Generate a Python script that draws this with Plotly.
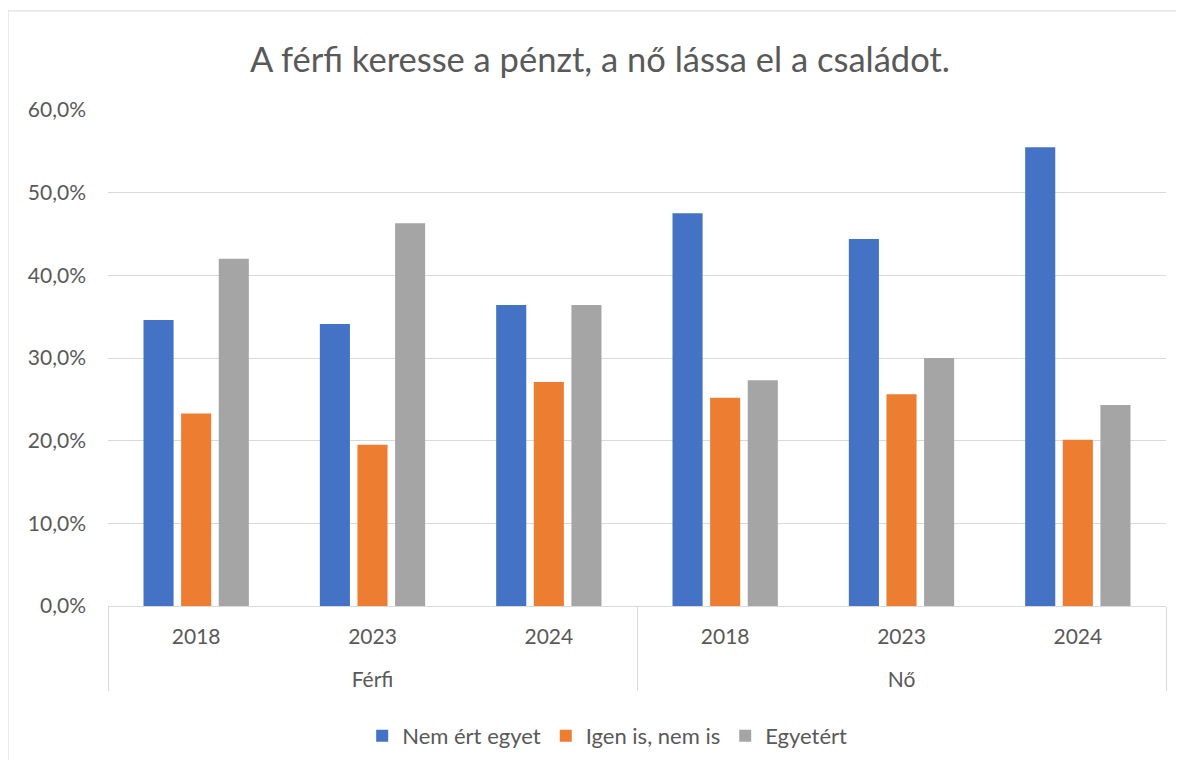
import plotly.graph_objects as go

groups = ["Férfi", "Férfi", "Férfi", "Nő", "Nő", "Nő"]
years = ["2018", "2023", "2024", "2018", "2023", "2024"]

nem_ert_egyet = [34.6, 34.1, 36.4, 47.5, 44.4, 55.5]
igen_is_nem_is = [23.3, 19.5, 27.1, 25.2, 25.6, 20.1]
egyetert = [42.0, 46.3, 36.4, 27.3, 30.0, 24.3]

series = [
    ("Nem ért egyet", nem_ert_egyet, "#4472C4"),
    ("Igen is, nem is", igen_is_nem_is, "#ED7D31"),
    ("Egyetért", egyetert, "#A5A5A5"),
]

font = "Lato"
text_color = "#595959"

# empty first line pushes the group row further below the years
group_labels = ["<br>" + g for g in groups]

fig = go.Figure()
for name, vals, color in series:
    fig.add_trace(go.Bar(
        x=[group_labels, years], y=vals, name=name,
        marker=dict(color=color, line=dict(width=0)),
    ))

# page body has an 8px margin, so the figure is sized to fit inside it
fig.update_layout(
    width=1168, height=752,
    paper_bgcolor="white", plot_bgcolor="white",
    separators=", ",
    margin=dict(l=100, r=10, t=102, b=154, autoexpand=False),
    bargap=0.36, bargroupgap=0.2,
    font=dict(family=font, color=text_color, size=21),
    title=dict(text="A férfi keresse a pénzt, a nő lássa el a családot.",
               x=0.5068, xanchor="center", y=0.931, yanchor="middle",
               font=dict(size=34.5, color=text_color)),
    legend=dict(orientation="h", x=0.513, xanchor="center", xref="container",
                y=0.032, yanchor="middle", yref="container",
                font=dict(size=22, color=text_color), itemwidth=30,
                traceorder="normal"),
    showlegend=True,
)

fig.update_yaxes(
    range=[0, 60], dtick=10, tickformat=".1f", ticksuffix="%",
    showgrid=True, gridcolor="#D9D9D9", gridwidth=1,
    zeroline=False, showline=False, ticks="",
    ticklabelstandoff=21, automargin=False,
)
fig.update_xaxes(
    showline=True, linecolor="#D9D9D9", linewidth=1,
    showdividers=True, dividercolor="#D9D9D9", dividerwidth=1,
    ticks="", tickfont=dict(size=21, color=text_color),
    ticklabelstandoff=12, automargin=False,
)

# outer chart frame
fig.add_shape(type="rect", xref="paper", yref="paper",
              x0=-0.0945, x1=1.2, y0=-0.6, y1=1.1996,
              line=dict(color="#D9D9D9", width=1), fillcolor="rgba(0,0,0,0)",
              layer="below")

fig.write_html("out.html")
